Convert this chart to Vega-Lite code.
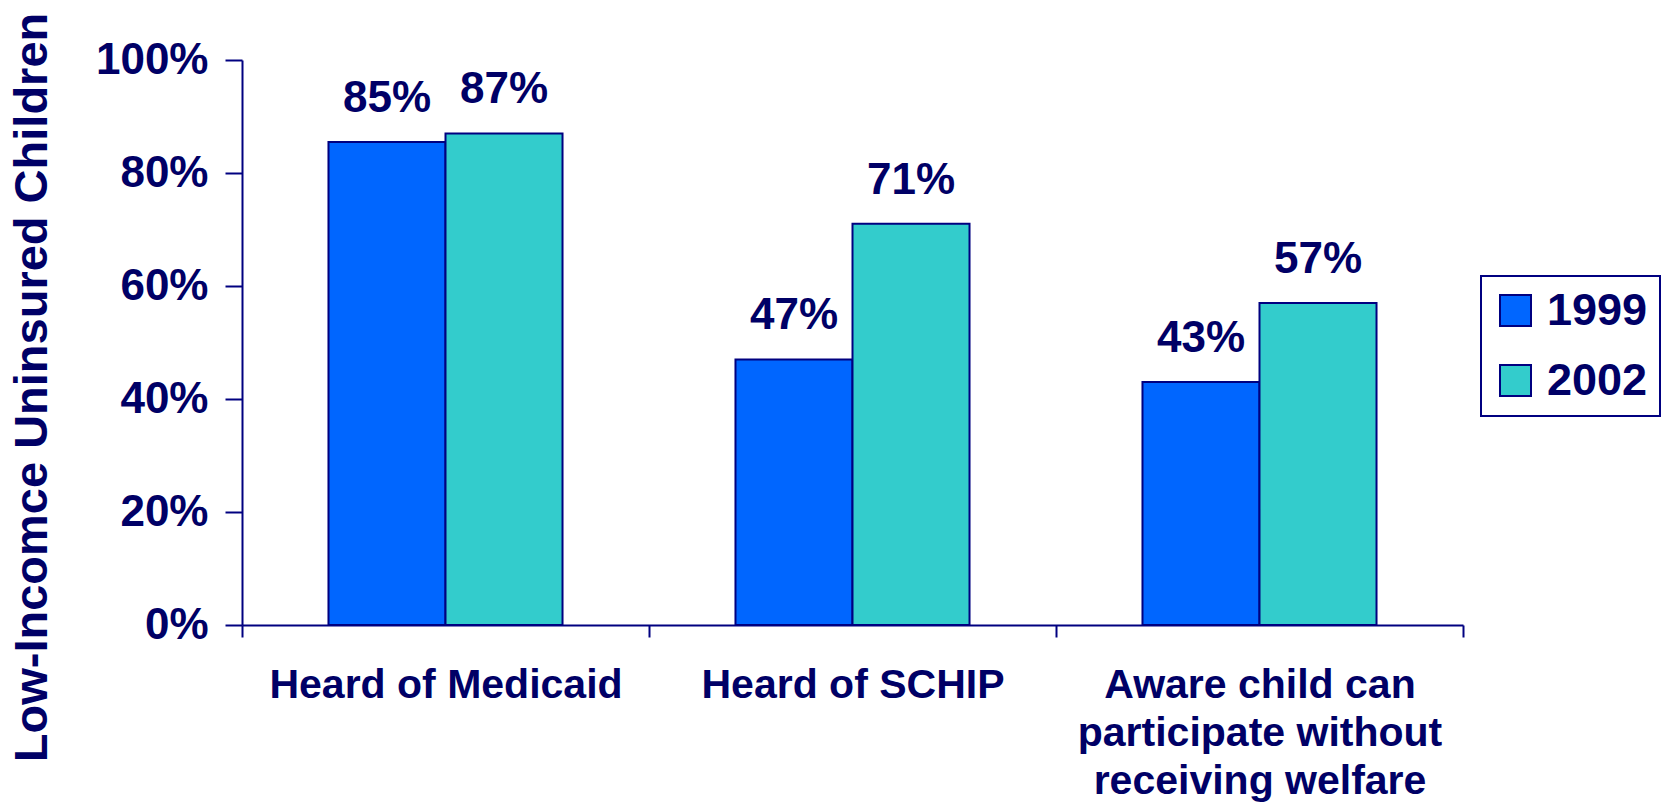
{
  "$schema": "https://vega.github.io/schema/vega-lite/v6.json",
  "width": 1221,
  "height": 565,
  "autosize": {"type": "none"},
  "padding": {"left": 242, "top": 60, "right": 199, "bottom": 183},
  "background": "white",
  "data": {
    "values": [
      {"measure": "Heard of Medicaid", "year": "1999", "share": 0.855, "label": "85%"},
      {"measure": "Heard of Medicaid", "year": "2002", "share": 0.87, "label": "87%"},
      {"measure": "Heard of SCHIP", "year": "1999", "share": 0.47, "label": "47%"},
      {"measure": "Heard of SCHIP", "year": "2002", "share": 0.71, "label": "71%"},
      {"measure": "Aware child can participate without receiving welfare", "year": "1999", "share": 0.43, "label": "43%"},
      {"measure": "Aware child can participate without receiving welfare", "year": "2002", "share": 0.57, "label": "57%"}
    ]
  },
  "config": {
    "view": {"stroke": null},
    "font": "Liberation Sans",
    "legend": {"strokeColor": "#000080", "strokeWidth": 2}
  },
  "encoding": {
    "x": {
      "field": "measure",
      "type": "nominal",
      "sort": null,
      "scale": {"paddingInner": 0, "paddingOuter": 0},
      "axis": {
        "title": null,
        "labelAngle": 0,
        "labelFont": "Liberation Sans",
        "labelFontWeight": "bold",
        "labelFontSize": 41,
        "labelColor": "#000066",
        "labelPadding": 28,
        "labelLineHeight": 48,
        "labelLimit": 0,
        "labelExpr": "datum.value == 'Aware child can participate without receiving welfare' ? ['Aware child can', 'participate without', 'receiving welfare'] : datum.value",
        "domainColor": "#000080",
        "domainWidth": 2,
        "tickColor": "#000080",
        "tickWidth": 2,
        "tickSize": 12,
        "tickBand": "extent"
      }
    },
    "xOffset": {"field": "year", "type": "nominal", "scale": {"paddingInner": 0, "paddingOuter": 0.739}},
    "y": {
      "field": "share",
      "type": "quantitative",
      "scale": {"domain": [0, 1]},
      "axis": {
        "title": "Low-Incomce Uninsured Children",
        "titleFont": "Liberation Sans",
        "titleFontWeight": "bold",
        "titleFontSize": 47,
        "titleColor": "#000066",
        "titleX": -210,
        "titleY": 327,
        "titleAlign": "center",
        "titleBaseline": "middle",
        "titleAngle": -90,
        "format": ".0%",
        "values": [0, 0.2, 0.4, 0.6, 0.8, 1],
        "grid": false,
        "labelFont": "Liberation Sans",
        "labelFontWeight": "bold",
        "labelFontSize": 44,
        "labelColor": "#000066",
        "labelPadding": 17,
        "domainColor": "#000080",
        "domainWidth": 2,
        "tickColor": "#000080",
        "tickWidth": 2,
        "tickSize": 17
      }
    }
  },
  "layer": [
    {
      "mark": {"type": "bar", "stroke": "#000080", "strokeWidth": 2},
      "encoding": {
        "color": {
          "field": "year",
          "type": "nominal",
          "scale": {"domain": ["1999", "2002"], "range": ["#0066FF", "#33CCCC"]},
          "legend": {
            "title": null,
            "orient": "none",
            "legendX": 1239,
            "legendY": 216,
            "direction": "vertical",
            "symbolType": "square",
            "symbolSize": 961,
            "symbolStrokeColor": "#000080",
            "symbolStrokeWidth": 2,
            "labelFont": "Liberation Sans",
            "labelFontWeight": "bold",
            "labelFontSize": 45,
            "labelColor": "#000066",
            "labelOffset": 9,
            "rowPadding": 24,
            "padding": 12
          }
        }
      }
    },
    {
      "mark": {
        "type": "text",
        "dy": -30,
        "baseline": "alphabetic",
        "font": "Liberation Sans",
        "fontWeight": "bold",
        "fontSize": 44,
        "color": "#000066"
      },
      "encoding": {
        "text": {"field": "label", "type": "nominal"}
      }
    }
  ]
}
